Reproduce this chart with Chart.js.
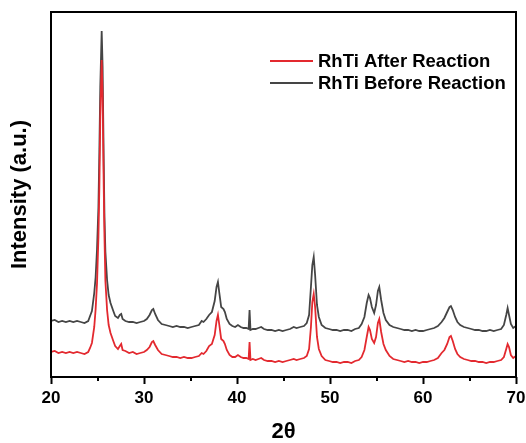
<!DOCTYPE html>
<html>
<head>
<meta charset="utf-8">
<script src="https://cdn.jsdelivr.net/npm/chart.js"></script>
<style>
  html, body { margin: 0; padding: 0; background: #fff; }
  #wrap { width: 526px; height: 443px; position: relative; }
</style>
</head>
<body>
<div id="wrap"><canvas id="xrd"></canvas></div>
<script>
// 2-theta positions (degrees)
const twoTheta = [
  20.0, 20.4, 20.8, 21.2, 21.6, 22.0, 22.4, 22.8, 23.2, 23.6,
  24.0, 24.2, 24.4, 24.65, 24.8, 24.95, 25.1, 25.2, 25.3, 25.45,
  25.55, 25.67, 25.75, 25.85, 26.03, 26.2, 26.4, 26.7, 26.9, 27.2,
  27.4, 27.55, 27.7, 28.0, 28.4, 28.8, 29.2, 29.6, 30.0, 30.3,
  30.6, 30.85, 31.0, 31.2, 31.5, 31.9, 32.3, 32.7, 33.1, 33.5,
  33.9, 34.3, 34.7, 35.1, 35.5, 35.9, 36.2, 36.4, 36.7, 37.0,
  37.3, 37.6, 37.8, 37.95, 38.1, 38.3, 38.55, 38.7, 38.9, 39.2,
  39.5, 39.8, 40.1, 40.4, 40.7, 41.0, 41.25, 41.35, 41.45, 41.7,
  42.0, 42.3, 42.6, 42.9, 43.3, 43.7, 44.1, 44.5, 44.9, 45.3,
  45.7, 46.1, 46.4, 46.8, 47.2, 47.5, 47.75, 47.95, 48.1, 48.25,
  48.4, 48.6, 48.8, 49.1, 49.5, 49.9, 50.3, 50.7, 51.1, 51.5,
  51.9, 52.3, 52.7, 53.1, 53.4, 53.7, 53.95, 54.15, 54.3, 54.5,
  54.75, 54.95, 55.15, 55.3, 55.5, 55.75, 56.0, 56.4, 56.8, 57.2,
  57.6, 58.0, 58.4, 58.8, 59.2, 59.6, 60.0, 60.4, 60.8, 61.2,
  61.6, 62.0, 62.3, 62.6, 62.85, 63.0, 63.2, 63.45, 63.7, 64.0,
  64.4, 64.8, 65.2, 65.6, 66.0, 66.4, 66.8, 67.2, 67.6, 68.0,
  68.4, 68.7, 68.95, 69.1, 69.25, 69.45, 69.7, 70.0
];

// intensities (arbitrary units)
const afterReaction = [
  25, 26, 24, 25, 24, 25, 24, 25, 24, 23,
  25, 29, 34, 50, 68, 94, 140, 190, 260, 317,
  280, 190, 140, 96, 67, 52, 44, 36, 31, 28,
  31, 33, 27, 26, 24, 25, 23, 24, 25, 27,
  30, 35, 36, 32, 27, 23, 22, 21, 20, 20,
  19, 20, 19, 19, 20, 21, 24, 23, 26, 31,
  33, 42, 56, 62, 52, 38, 36, 33, 27, 22,
  20, 20, 22, 20, 19, 19, 18, 35, 17, 18,
  17, 18, 19, 17, 16, 16, 15, 16, 15, 16,
  17, 18, 17, 18, 19, 21, 28, 50, 75, 83,
  70, 40, 28, 21, 17, 16, 15, 15, 14, 15,
  15, 14, 16, 17, 20, 27, 40, 50, 47, 38,
  34, 40, 54, 58, 45, 33, 27, 21, 18, 17,
  16, 15, 16, 15, 15, 14, 15, 15, 16, 17,
  19, 24, 27, 33, 40, 41, 36, 28, 23, 20,
  18, 17, 16, 16, 15, 15, 14, 15, 15, 16,
  17, 20, 28, 33, 30, 22, 19, 21
];

const beforeReaction = [
  56, 57, 55, 56, 55, 56, 55, 56, 55, 54,
  56, 61, 66, 84, 100, 128, 170, 225, 290, 346,
  310, 215, 160, 125, 97, 82, 74, 66, 61, 59,
  62, 63, 58, 56, 55, 55, 54, 55, 56, 58,
  62, 67, 68, 63, 57, 53, 52, 51, 50, 51,
  50, 50, 49, 50, 51, 52, 56, 55, 58, 62,
  65, 76, 90, 95, 84, 70, 68, 65, 58, 53,
  51, 50, 52, 50, 49, 49, 48, 67, 47, 48,
  48, 49, 50, 48, 47, 47, 46, 47, 46, 47,
  48, 50, 49, 50, 51, 54, 62, 90, 112, 120,
  102, 72, 60, 52, 49, 48, 47, 47, 46, 47,
  47, 46, 48, 49, 53, 60, 74, 82, 79, 70,
  64, 72, 86, 90, 77, 64, 57, 52, 50, 49,
  48, 47, 47, 46, 47, 46, 46, 47, 48, 49,
  51, 55, 59, 65, 70, 71, 67, 60, 55, 52,
  50, 49, 48, 47, 47, 46, 46, 47, 46, 47,
  48, 52, 62, 69, 62, 53, 49, 51
];

const seriesNames = ["RhTi After Reaction", "RhTi Before Reaction"];
const xTickLabels = [20, 30, 40, 50, 60, 70];
const xMinorTicks = [25, 35, 45, 55, 65];

const FONT = "'Liberation Sans', Arial, Helvetica, sans-serif";

const pts = (ys) => twoTheta.map((x, i) => ({ x: x, y: ys[i] }));

// frame round the plot area + the short minor ticks
const frame = {
  id: "frame",
  afterDraw(chart) {
    const { ctx, chartArea: a } = chart;
    const xs = chart.scales.x;
    ctx.save();
    ctx.strokeStyle = "#000";
    ctx.lineWidth = 2;
    ctx.strokeRect(a.left, a.top, a.right - a.left, a.bottom - a.top);
    xMinorTicks.forEach((v) => {
      const px = Math.round(xs.getPixelForValue(v));
      ctx.beginPath();
      ctx.moveTo(px, a.bottom);
      ctx.lineTo(px, a.bottom + 4);
      ctx.stroke();
    });
    ctx.restore();
  }
};

// legend in the top right corner, drawn by hand
const cornerLegend = {
  id: "cornerLegend",
  afterDraw(chart) {
    const ctx = chart.ctx;
    ctx.save();
    ctx.font = "bold 18.5px " + FONT;
    ctx.textBaseline = "middle";
    ctx.fillStyle = "#000";
    chart.data.datasets.forEach((ds, i) => {
      const y = 61 + i * 22;
      ctx.strokeStyle = ds.borderColor;
      ctx.lineWidth = 2;
      ctx.beginPath();
      ctx.moveTo(270, y);
      ctx.lineTo(313, y);
      ctx.stroke();
      ctx.fillText(ds.label, 318, y + 1);
    });
    ctx.restore();
  }
};

new Chart(document.getElementById("xrd"), {
  type: "line",
  data: {
    datasets: [
      {
        label: seriesNames[0],
        data: pts(afterReaction),
        borderColor: "#e3292f",
        borderWidth: 1.8,
        pointRadius: 0,
        tension: 0
      },
      {
        label: seriesNames[1],
        data: pts(beforeReaction),
        borderColor: "#454545",
        borderWidth: 1.8,
        pointRadius: 0,
        tension: 0
      }
    ]
  },
  options: {
    responsive: true,
    maintainAspectRatio: false,
    animation: false,
    layout: { padding: { top: 12, right: 10, left: 9, bottom: 0 } },
    plugins: {
      legend: { display: false },
      tooltip: { enabled: false }
    },
    scales: {
      x: {
        type: "linear",
        min: 20,
        max: 70,
        // let the "70" label hang past the plot like in the original
        afterFit: (s) => { s.paddingRight = 0; },
        ticks: {
          stepSize: 5,
          autoSkip: false,
          maxRotation: 0,
          padding: 6,
          color: "#000",
          font: { family: FONT, weight: "bold", size: 17, lineHeight: 1 },
          callback: (v) => (xTickLabels.includes(v) ? String(v) : "")
        },
        grid: {
          drawOnChartArea: false,
          tickLength: 7,
          tickWidth: 2,
          tickColor: (c) => (xTickLabels.includes(c.tick && c.tick.value) ? "#000" : "rgba(0,0,0,0)")
        },
        border: { display: false },
        title: {
          display: true,
          text: "2θ",
          color: "#000",
          font: { family: FONT, weight: "bold", size: 22, lineHeight: 1 },
          padding: { top: 8, bottom: 0 }
        }
      },
      y: {
        min: 0,
        max: 365,
        ticks: { display: false },
        grid: { display: false, drawTicks: false },
        border: { display: false },
        title: {
          display: true,
          text: "Intensity (a.u.)",
          color: "#000",
          font: { family: FONT, weight: "bold", size: 22, lineHeight: 1 },
          padding: { top: 0, bottom: 20 }
        }
      }
    }
  },
  plugins: [frame, cornerLegend]
});
</script>
</body>
</html>
